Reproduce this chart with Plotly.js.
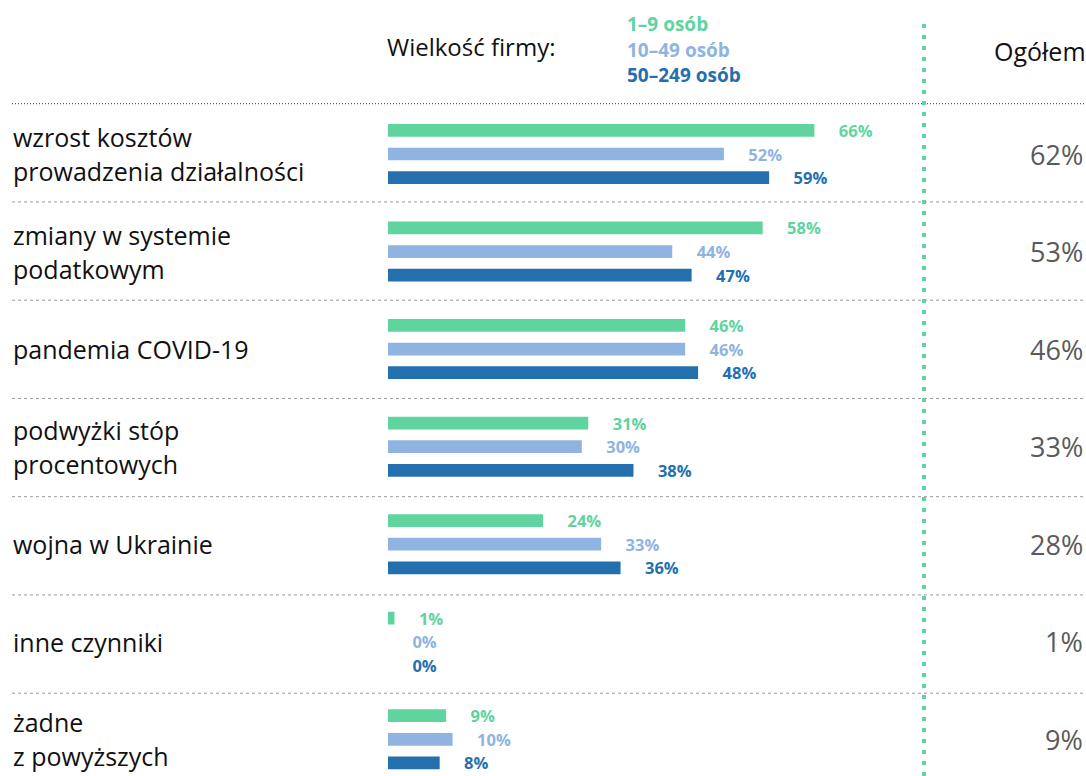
<!DOCTYPE html>
<html><head><meta charset="utf-8">
<script src="https://cdn.plot.ly/plotly-3.0.1.min.js"></script>
<style>html,body{margin:0;padding:0;background:#fff}#chart{width:1086px;height:776px}</style>
</head><body><div id="chart"></div>
<script>
var categories = ["wzrost kosztów<br>prowadzenia działalności","zmiany w systemie<br>podatkowym","pandemia COVID-19","podwyżki stóp<br>procentowych","wojna w Ukrainie","inne czynniki","żadne<br>z powyższych"];
var seriesNames = ["1–9 osób","10–49 osób","50–249 osób"];
var small = [66,58,46,31,24,1,9];
var medium = [52,44,46,30,33,0,10];
var large = [59,47,48,38,36,0,8];
var total = [62,53,46,33,28,1,9];
var colors = ["#5fd49e","#8fb4e2","#2470ae"];

var W=1086,H=776,T=103;
function px(x){return x/W;}
function py(y){return (H-y)/(H-T);}
var pad = "\u00a0\u00a0\u00a0\u00a0\u00a0";
var font = "Open Sans, Noto Sans, sans-serif";

var data = [small,medium,large].map(function(vals,k){
  return {type:"bar",orientation:"h",name:seriesNames[k],x:vals,y:categories,
    marker:{color:colors[k]},text:vals.map(function(v){return pad+v+"%";}),
    textposition:"outside",constraintext:"none",cliponaxis:false,
    textfont:{family:font,size:16.5,color:colors[k],weight:700},hoverinfo:"none"};
});

var ann = [];
categories.forEach(function(c,i){
  var lines = c.split("<br>");
  lines.forEach(function(l,j){
    ann.push({xref:"paper",yref:"y",x:px(11),y:c,xanchor:"left",yanchor:"middle",showarrow:false,
      text:l,yshift:((lines.length-1)/2-j)*34,font:{family:font,size:25,color:"#111"}});
  });
  ann.push({xref:"paper",yref:"y",x:px(1085),y:c,xanchor:"right",yanchor:"middle",showarrow:false,
    text:total[i]+"%",font:{family:font,size:27,color:"#5a5a5a"}});
});
ann.push({xref:"paper",yref:"paper",x:px(385),y:py(46),xanchor:"left",yanchor:"middle",showarrow:false,
  text:"Wielkość firmy:",font:{family:font,size:24,color:"#111"}});
seriesNames.forEach(function(n,k){
  ann.push({xref:"paper",yref:"paper",x:px(625),y:py(24+k*25.5),xanchor:"left",yanchor:"middle",showarrow:false,
    text:"<b>"+n+"</b>",font:{family:font,size:19,color:colors[k]}});
});
ann.push({xref:"paper",yref:"paper",x:px(1088),y:py(51),xanchor:"right",yanchor:"middle",showarrow:false,
  text:"Ogółem",font:{family:font,size:25,color:"#111"}});

var shapes = [];
categories.forEach(function(c,i){
  var yy = py(103.7 + i*98.25);
  shapes.push({type:"line",xref:"paper",yref:"paper",x0:px(12),x1:1,y0:yy,y1:yy,
    line:{color:i===0?"#333":"#9a9a9a",width:1,dash:i===0?"1px,2px":"3px,3px"}});
});
shapes.push({type:"line",xref:"paper",yref:"paper",x0:px(924),x1:px(924),y0:0,y1:py(19),
  line:{color:"#5fd49e",width:4,dash:"4px,7px"}});

var pxPer = 6.46, rowPx = 97.55, firstCenter = 154;
var yTop = -(firstCenter - T)/rowPx;
var layout = {width:W,height:H,margin:{l:0,r:0,t:T,b:0,pad:0},
  paper_bgcolor:"#fff",plot_bgcolor:"#fff",showlegend:false,
  barmode:"group",bargap:0.274,bargroupgap:0.46,
  xaxis:{range:[-388/pxPer,(W-388)/pxPer],visible:false,fixedrange:true},
  yaxis:{type:"category",categoryorder:"array",categoryarray:categories,
    range:[yTop+(H-T)/rowPx,yTop],visible:false,fixedrange:true},
  annotations:ann,shapes:shapes,font:{family:font}};
Plotly.newPlot("chart",data,layout,{displayModeBar:false,staticPlot:true});
</script></body></html>
